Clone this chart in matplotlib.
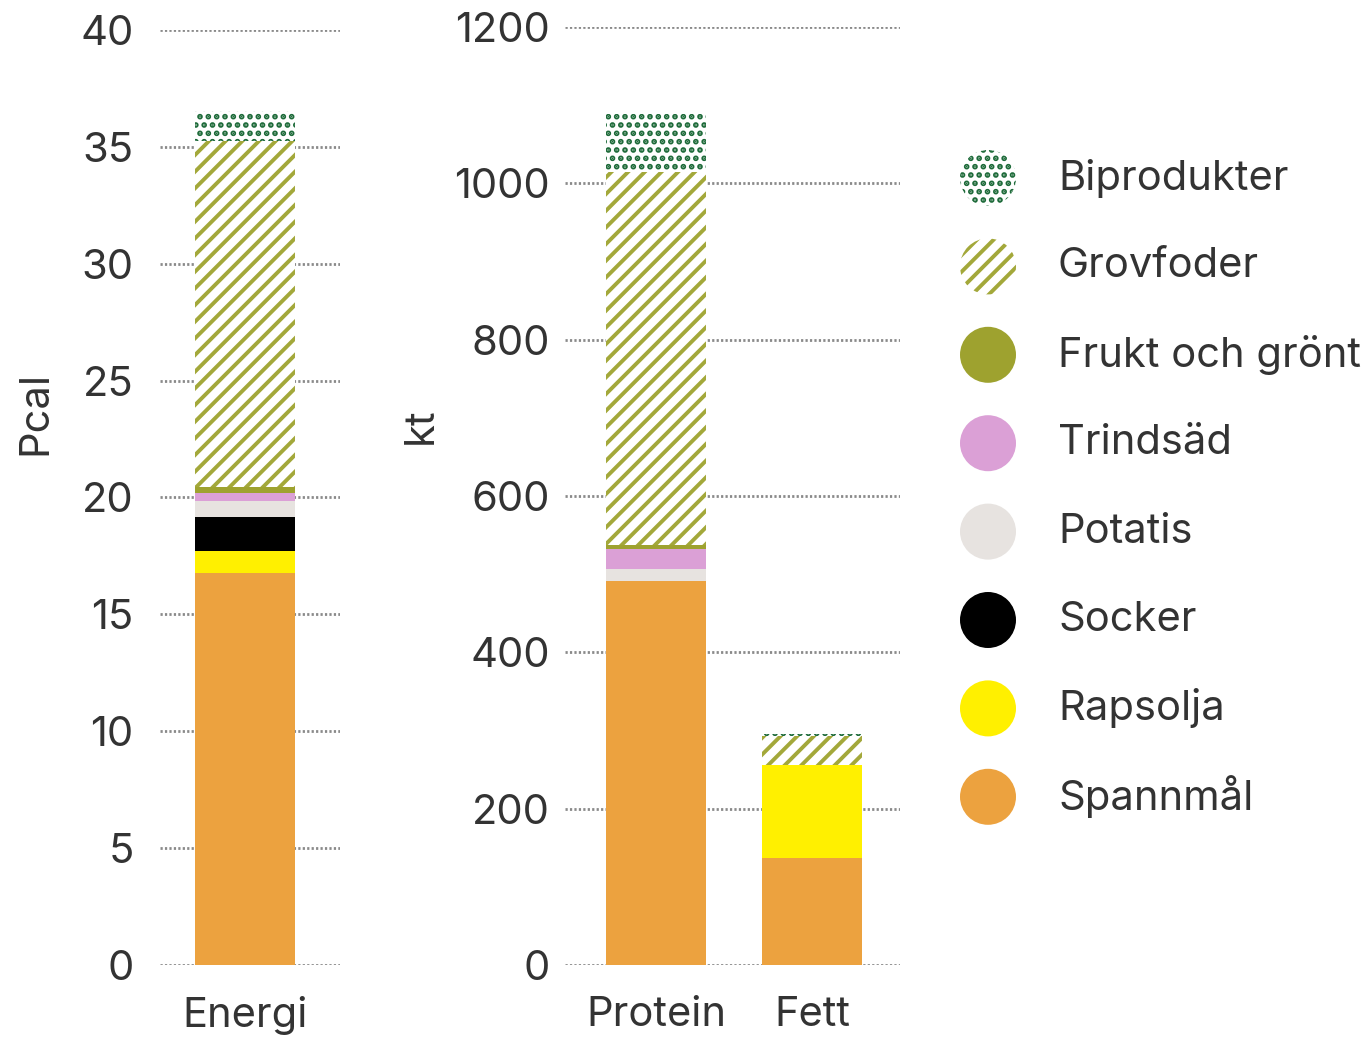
import matplotlib
matplotlib.use("Agg")
import matplotlib.pyplot as plt
from matplotlib.patches import Circle

plt.rcParams['font.family'] = ['Inter', 'DejaVu Sans']
plt.rcParams['hatch.linewidth'] = 2.8

# stacking order bottom -> top
categories = ["Spannmål", "Rapsolja", "Socker", "Potatis", "Trindsäd",
              "Frukt och grönt", "Grovfoder", "Biprodukter"]
colors = ["#eca23f", "#fff000", "#000000", "#e7e3e0", "#dba0d6",
          "#9ea22f", "#a3a83a", "#1e6b3a"]
hatches = [None, None, None, None, None, None, "//", ".."]

energi = [16.77, 0.94, 1.46, 0.68, 0.35, 0.23, 14.82, 1.28]   # Pcal
protein = [491, 0, 0, 15, 26, 5, 477, 75]                     # kt
fett = [137, 119, 0, 0, 0, 0, 37, 2]                          # kt

left_ticks = [0, 5, 10, 15, 20, 25, 30, 35, 40]
right_ticks = [0, 200, 400, 600, 800, 1000, 1200]

FS = 30
TXT = "#333333"

fig = plt.figure(figsize=(13.72, 10.41), dpi=100)
ax1 = fig.add_axes([0.1166, 0.0730, 0.1312, 0.8982])
ax2 = fig.add_axes([0.4118, 0.0730, 0.2442, 0.9011])


def stack(ax, x, vals, width):
    bottom = 0
    for v, c, h in zip(vals, colors, hatches):
        if v <= 0:
            continue
        if h is None:
            ax.bar(x, v, width, bottom=bottom, color=c, linewidth=0, zorder=3)
        else:
            ax.bar(x, v, width, bottom=bottom, facecolor="white",
                   edgecolor=c, hatch=h, linewidth=0, zorder=3)
        bottom += v


stack(ax1, 0, energi, 1.0)
stack(ax2, 0, protein, 0.64)
stack(ax2, 1, fett, 0.64)

for ax, ticks in [(ax1, left_ticks), (ax2, right_ticks)]:
    for s in ax.spines.values():
        s.set_visible(False)
    ax.set_yticks(ticks)
    ax.set_ylim(ticks[0], ticks[-1])
    ax.yaxis.grid(True, linestyle=(0, (0.8, 0.8)), color="#8a8a8a", linewidth=2, zorder=0)
    ax.set_axisbelow(True)
    ax.tick_params(length=0, labelsize=FS, labelcolor=TXT)

ax1.set_xlim(-0.85, 0.95)
ax1.set_xticks([0])
ax1.set_xticklabels(["Energi"])
ax1.tick_params(axis="y", pad=19)
ax1.tick_params(axis="x", pad=22)
ax1.set_ylabel("Pcal", fontsize=FS, color=TXT)
ax1.yaxis.set_label_coords(-0.585, 0.59)

ax2.set_xlim(-0.583, 1.564)
ax2.set_xticks([0, 1])
ax2.set_xticklabels(["Protein", "Fett"])
ax2.tick_params(axis="y", pad=11)
ax2.tick_params(axis="x", pad=22)
ax2.set_ylabel("kt", fontsize=FS, color=TXT)
ax2.yaxis.set_label_coords(-0.375, 0.575)

# legend, top entry = Biprodukter
lax = fig.add_axes([0, 0, 1, 1], facecolor="none")
lax.set_xlim(0, 1372)
lax.set_ylim(1041, 0)
lax.axis("off")
for i, (name, c, h) in enumerate(zip(categories[::-1], colors[::-1], hatches[::-1])):
    y = 178 + i * 88.4
    if h is None:
        lax.add_patch(Circle((988, y), 28, color=c, linewidth=0))
    else:
        lax.add_patch(Circle((988, y), 28, facecolor="white", edgecolor=c,
                             hatch=h, linewidth=0))
    lax.text(1058, y, name, fontsize=FS, color=TXT, va="center", ha="left")

fig.savefig("out.png", dpi=100)
